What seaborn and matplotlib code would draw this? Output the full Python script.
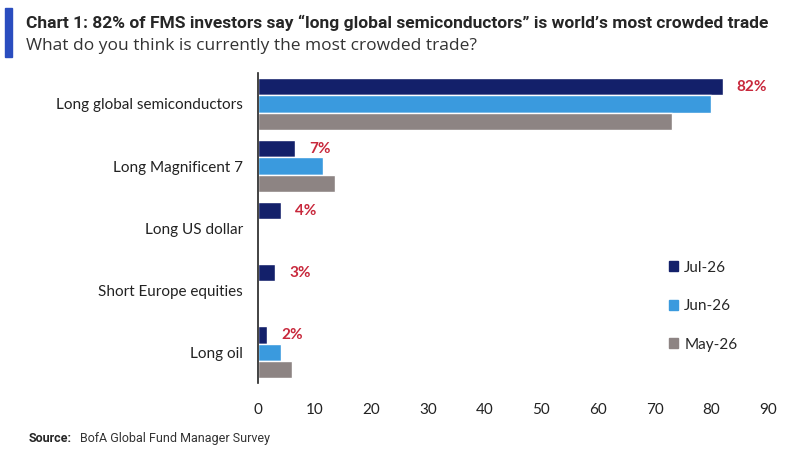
import pandas as pd
import matplotlib.pyplot as plt
import matplotlib.patches as mpatches
import seaborn as sns
import numpy as np

# data (% of FMS investors)
trades = ['Long global semiconductors', 'Long Magnificent 7', 'Long US dollar',
          'Short Europe equities', 'Long oil']
months = ['Jul-26', 'Jun-26', 'May-26']
jul = [82, 6.5, 4, 3, 1.6]
jun = [80, 11.5, np.nan, np.nan, 4]
may = [73, 13.5, np.nan, np.nan, 6]
jul_labels = ['82%', '7%', '4%', '3%', '2%']
xticks = [0, 10, 20, 30, 40, 50, 60, 70, 80, 90]

colors = ['#13206a', '#3a9ade', '#8d8483']
red = '#c8283c'

df = pd.DataFrame({'trade': trades * 3,
                   'month': [m for m in months for _ in trades],
                   'value': jul + jun + may})
df = df.dropna()

sns.set_style('white')
plt.rcParams['font.family'] = ['Lato', 'DejaVu Sans']

fig = plt.figure(figsize=(8.04, 4.53), dpi=100)
ax = fig.add_axes([0.321, 0.154, 0.634, 0.685])

sns.barplot(data=df, y='trade', x='value', hue='month', order=trades,
            hue_order=months, palette=colors, orient='h', width=0.84,
            saturation=1, errorbar=None, ax=ax, legend=False)

# red labels on the July bars
ax.bar_label(ax.containers[0], labels=jul_labels, padding=10, color=red,
             fontsize=11, fontweight='bold')

ax.set_xlim(0, 90)
ax.set_ylim(4.5, -0.5)
ax.set_xticks(xticks)
ax.set_xlabel('')
ax.set_ylabel('')
ax.tick_params(axis='x', length=0, pad=14, labelsize=11, colors='#222222')
ax.tick_params(axis='y', length=0, pad=11, labelsize=11, colors='#222222')
for s in ['top', 'right', 'bottom']:
    ax.spines[s].set_visible(False)
ax.spines['left'].set_color('#222222')
ax.spines['left'].set_linewidth(1.2)

# legend
handles = [mpatches.Patch(color=c, label=m) for c, m in zip(colors, months)]
fig.legend(handles=handles, loc='upper left', bbox_to_anchor=(0.815, 0.455),
           frameon=False, fontsize=11, handlelength=0.6, handleheight=0.6,
           handletextpad=0.4, labelspacing=1.6)

# header
fig.patches.append(mpatches.Rectangle((0.006, 0.875), 0.009, 0.108,
                                      transform=fig.transFigure,
                                      color='#2a4dbf'))
title_font = ['Roboto', 'DejaVu Sans']
fig.text(0.032, 0.95, 'Chart 1: 82% of FMS investors say \u201clong global semiconductors\u201d is world\u2019s most crowded trade',
         fontsize=12.5, fontweight='bold', family=title_font, va='center')
fig.text(0.032, 0.898, 'What do you think is currently the most crowded trade?',
         fontsize=12.5, family=['Open Sans', 'DejaVu Sans'], va='center',
         color='#333333')
fig.text(0.035, 0.033, 'Source:', fontsize=9, fontweight='bold',
         family=title_font, va='center')
fig.text(0.1, 0.033, 'BofA Global Fund Manager Survey', fontsize=9,
         family=title_font, va='center', color='#333333')

fig.savefig('out.png', dpi=100)
